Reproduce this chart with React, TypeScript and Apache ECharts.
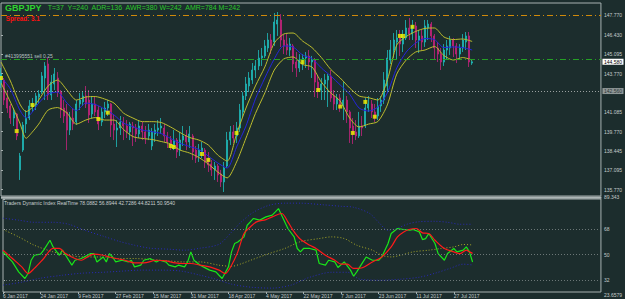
import React, { useEffect, useRef } from "react";
import * as echarts from "echarts";

// ---------- data ----------
const N_SLOTS = 192; // 151 daily bars + empty chart shift on the right
const LABEL_STEP = 12;
const DATE_LABELS = [
  "6 Jan 2017", "24 Jan 2017", "9 Feb 2017", "27 Feb 2017", "15 Mar 2017", "31 Mar 2017",
  "18 Apr 2017", "4 May 2017", "22 May 2017", "7 Jun 2017", "23 Jun 2017", "11 Jul 2017", "27 Jul 2017",
];

// [open, close, low, high]
const CANDLES: number[][] = [
  [143.05, 143.74, 142.77, 144.15], [143.32, 141.94, 141.60, 143.46], [142.08, 141.39, 141.05, 142.63],
  [141.53, 140.70, 140.29, 141.67], [140.70, 141.12, 140.15, 141.39], [140.98, 139.46, 139.18, 141.05],
  [137.12, 138.08, 136.43, 138.29], [138.49, 140.22, 138.36, 140.43], [140.29, 140.70, 139.67, 141.25],
  [140.70, 141.53, 140.56, 141.94], [141.53, 141.67, 141.12, 142.08], [141.60, 142.22, 141.25, 142.43],
  [142.15, 142.36, 141.67, 142.63], [142.49, 143.60, 142.36, 143.87], [143.46, 144.29, 141.94, 144.56],
  [144.43, 142.29, 141.94, 144.84], [142.29, 143.18, 141.94, 143.67], [143.05, 143.74, 142.63, 144.15],
  [143.46, 142.49, 142.15, 143.87], [142.49, 141.25, 140.70, 142.63], [141.39, 140.84, 140.36, 141.94],
  [141.12, 139.87, 138.49, 141.67], [139.87, 140.70, 139.53, 141.12], [140.70, 140.29, 139.87, 141.39],
  [140.43, 141.67, 140.22, 141.94], [141.67, 141.94, 141.25, 142.43], [141.81, 142.22, 141.53, 142.49],
  [142.22, 141.67, 141.39, 142.91], [141.94, 140.91, 140.36, 142.63], [140.98, 141.67, 140.70, 142.22],
  [141.67, 141.12, 140.84, 142.15], [141.25, 140.29, 139.87, 141.53], [140.43, 141.12, 140.15, 141.39],
  [141.12, 141.39, 140.70, 141.81], [141.39, 141.67, 140.84, 141.94], [141.67, 140.22, 139.39, 141.74],
  [140.29, 139.87, 139.18, 140.91], [139.87, 140.01, 138.70, 140.56], [140.01, 140.43, 139.53, 140.84],
  [140.43, 140.15, 139.18, 140.77], [140.15, 139.74, 139.32, 140.56], [139.74, 140.29, 139.18, 140.43],
  [140.15, 140.01, 138.77, 140.43], [140.01, 139.60, 139.05, 140.29], [139.60, 140.15, 139.32, 140.56],
  [140.15, 139.74, 139.18, 140.43], [139.74, 139.32, 138.91, 140.15], [139.46, 139.87, 139.18, 140.29],
  [138.77, 139.74, 138.49, 140.01], [139.60, 139.87, 139.05, 140.29], [139.87, 140.01, 139.46, 140.56],
  [140.01, 140.15, 139.60, 140.70], [140.01, 139.46, 139.05, 140.29], [139.46, 139.05, 138.63, 139.74],
  [139.18, 138.84, 138.49, 139.46], [138.84, 139.18, 138.49, 139.87], [139.18, 138.36, 137.94, 139.32],
  [138.49, 139.18, 138.08, 139.74], [139.18, 139.46, 138.77, 140.15], [139.46, 139.05, 138.49, 139.87],
  [139.05, 139.60, 138.63, 140.15], [139.46, 138.36, 137.81, 139.60], [138.49, 137.94, 137.60, 138.77],
  [138.08, 138.49, 137.67, 138.91], [138.36, 138.63, 137.94, 139.05], [138.49, 137.67, 137.25, 138.63],
  [137.81, 137.46, 136.98, 138.36], [137.53, 137.12, 136.70, 137.81], [137.12, 137.39, 136.43, 137.67],
  [137.39, 136.77, 136.29, 137.53], [136.84, 136.29, 135.94, 137.12], [136.29, 137.25, 135.60, 137.67],
  [137.39, 139.18, 137.25, 139.74], [139.18, 139.74, 138.84, 140.15], [139.74, 139.32, 138.98, 140.22],
  [139.46, 140.01, 138.98, 140.43], [140.01, 141.25, 139.74, 141.67], [141.12, 142.22, 140.70, 142.49],
  [142.22, 143.05, 141.94, 143.53], [142.91, 143.46, 142.49, 143.87], [143.32, 144.01, 143.05, 144.49],
  [144.01, 144.29, 143.46, 144.70], [144.29, 144.84, 144.01, 145.39], [144.84, 144.98, 144.29, 145.53],
  [144.98, 145.67, 144.84, 146.08], [145.53, 146.08, 145.25, 146.56], [146.08, 145.53, 145.11, 146.49],
  [145.94, 147.32, 145.67, 147.94], [147.18, 147.46, 146.36, 148.01], [147.46, 146.08, 145.60, 147.87],
  [146.08, 145.67, 145.11, 146.49], [145.80, 145.39, 145.05, 146.49], [145.39, 145.80, 144.98, 146.22],
  [145.67, 144.43, 143.87, 145.80], [144.56, 144.15, 143.53, 145.25], [144.15, 144.70, 143.87, 145.11],
  [144.70, 144.84, 144.01, 145.11], [144.84, 144.98, 144.15, 145.25], [144.98, 144.56, 144.01, 145.39],
  [144.56, 144.70, 143.46, 144.98], [144.70, 143.18, 142.15, 144.84], [143.18, 142.63, 142.08, 143.60],
  [142.63, 143.05, 141.94, 143.46], [143.05, 143.32, 141.94, 143.74], [143.32, 143.60, 141.46, 143.74],
  [143.60, 142.08, 141.81, 144.01], [142.22, 141.67, 141.25, 142.63], [141.67, 142.08, 141.25, 142.36],
  [142.08, 141.53, 141.12, 142.36], [141.53, 141.94, 140.56, 143.18], [141.94, 141.12, 140.36, 142.22],
  [141.12, 140.01, 138.98, 141.25], [140.15, 139.60, 138.91, 140.70], [139.74, 139.46, 139.18, 140.56],
  [139.46, 140.15, 139.32, 141.12], [140.15, 140.01, 139.46, 140.84], [140.15, 141.39, 140.01, 142.08],
  [141.39, 141.67, 141.12, 142.22], [141.67, 141.12, 140.70, 141.94], [141.12, 140.70, 140.43, 141.67],
  [140.84, 141.53, 140.56, 142.08], [141.53, 141.94, 141.12, 142.22], [141.94, 143.32, 141.67, 143.87],
  [142.91, 144.84, 142.43, 145.39], [144.70, 145.39, 144.43, 146.08], [145.39, 146.08, 144.84, 146.56],
  [145.94, 146.22, 144.70, 146.77], [146.22, 145.80, 144.98, 146.77], [145.80, 146.22, 145.25, 146.77],
  [146.22, 146.91, 146.08, 147.46], [146.91, 146.49, 146.08, 147.60], [146.49, 147.05, 146.08, 147.46],
  [147.05, 146.08, 145.53, 147.32], [146.08, 146.36, 145.18, 146.77], [146.36, 145.94, 145.39, 146.77],
  [145.94, 147.05, 145.60, 147.46], [146.91, 147.18, 146.08, 147.46], [147.18, 146.36, 145.94, 147.32],
  [146.36, 145.53, 144.70, 146.49], [145.53, 145.11, 144.56, 145.94], [145.11, 144.56, 144.01, 145.53],
  [144.56, 145.39, 144.29, 145.80], [145.39, 145.67, 144.70, 146.08], [145.53, 146.08, 145.05, 146.36],
  [146.08, 145.67, 144.91, 146.22], [145.67, 145.11, 144.49, 145.87], [145.11, 145.53, 144.70, 145.80],
  [145.53, 146.08, 145.25, 146.49], [145.94, 146.36, 145.39, 146.63], [146.36, 144.56, 144.22, 146.63],
  [144.49, 144.58, 144.36, 144.77],
];

// channel: [bar index, price]
const MA_MID: number[][] = [
  [0, 143.53], [3, 142.70], [6, 141.25], [8, 140.70], [10, 141.12], [12, 141.73], [15, 142.35], [18, 142.49],
  [21, 141.73], [24, 141.21], [27, 141.73], [30, 141.63], [33, 141.32], [36, 140.91], [39, 140.35], [42, 140.10],
  [45, 139.87], [48, 139.76], [51, 139.63], [54, 139.29], [57, 138.96], [60, 138.74], [63, 138.53], [66, 138.08],
  [69, 137.60], [72, 137.25], [75, 138.70], [78, 140.15], [81, 142.01], [84, 143.46], [87, 144.77], [90, 145.67],
  [93, 145.60], [96, 145.05], [99, 144.80], [102, 144.15], [105, 143.60], [108, 142.98], [111, 142.35], [114, 141.39],
  [117, 141.18], [120, 141.46], [123, 142.43], [126, 144.15], [129, 145.25], [132, 145.87], [135, 146.18], [138, 146.11],
  [141, 145.56], [144, 145.60], [147, 145.56], [150, 145.39],
];
const BAND_UP: number[][] = [
  [0, 144.56], [3, 143.25], [6, 141.67], [8, 141.14], [10, 141.43], [12, 141.94], [15, 142.91], [18, 143.32],
  [21, 142.63], [24, 141.94], [27, 142.15], [30, 142.18], [33, 142.01], [36, 141.73], [39, 141.04], [42, 140.70],
  [45, 140.45], [48, 140.45], [51, 140.39], [54, 140.08], [57, 139.70], [60, 139.36], [63, 139.18], [66, 138.84],
  [69, 138.15], [72, 137.73], [75, 139.60], [78, 141.39], [81, 142.91], [84, 144.22], [87, 145.87], [90, 146.49],
  [93, 146.56], [96, 146.01], [99, 145.56], [102, 144.87], [105, 144.05], [108, 143.46], [111, 142.77], [114, 142.22],
  [117, 142.10], [120, 141.94], [123, 143.32], [126, 145.74], [129, 146.32], [132, 146.67], [135, 146.88], [138, 146.91],
  [141, 146.29], [144, 146.11], [147, 146.15], [150, 145.98],
];
const BAND_DN: number[][] = [
  [0, 143.12], [3, 141.80], [6, 140.35], [8, 139.30], [10, 139.74], [12, 140.28], [15, 141.25], [18, 141.42],
  [21, 141.04], [24, 140.28], [27, 140.56], [30, 140.73], [33, 140.56], [36, 140.56], [39, 139.91], [42, 139.42],
  [45, 139.29], [48, 139.22], [51, 139.08], [54, 138.91], [57, 138.49], [60, 138.29], [63, 137.98], [66, 137.53],
  [69, 136.98], [72, 136.57], [75, 137.67], [78, 139.32], [81, 141.01], [84, 142.43], [87, 144.01], [90, 144.77],
  [93, 144.91], [96, 144.39], [99, 144.22], [102, 143.18], [105, 142.43], [108, 141.87], [111, 140.70], [114, 140.08],
  [117, 140.28], [120, 140.46], [123, 141.60], [126, 143.73], [129, 144.70], [132, 145.25], [135, 145.39], [138, 145.63],
  [141, 145.01], [144, 144.70], [147, 144.87], [150, 144.70],
];
const SIGNAL_DOTS: number[][] = [
  [0, 143.46], [5, 139.80], [10, 141.60], [31, 140.63], [34, 141.07], [54, 138.77], [55, 138.70], [64, 138.22],
  [66, 137.81], [75, 139.67], [96, 144.56], [101, 142.63], [108, 141.49], [112, 139.67], [116, 141.81], [119, 140.79],
  [127, 146.36], [128, 146.36], [131, 146.99],
];

// Traders Dynamic Index: [bar index, value]
const TDI_RSI: number[][] = [
  [0, 52.0], [3, 44.9], [5, 37.9], [7, 33.2], [8, 36.7], [9, 46.1], [10, 49.6], [12, 50.4], [13, 53.2], [15, 60.2],
  [16, 55.5], [18, 49.6], [19, 53.2], [20, 49.6], [22, 42.6], [23, 46.1], [25, 47.3], [27, 49.6], [28, 50.8], [29, 50.8],
  [30, 44.9], [32, 48.4], [33, 44.9], [34, 50.8], [35, 48.4], [36, 44.9], [38, 46.1], [40, 44.9], [41, 46.1], [42, 41.4],
  [44, 42.6], [45, 46.1], [47, 47.3], [49, 44.9], [50, 46.1], [52, 44.9], [53, 42.6], [55, 41.4], [56, 42.6], [58, 41.4],
  [59, 44.9], [60, 52.0], [61, 46.1], [63, 42.6], [64, 41.4], [66, 39.1], [68, 37.9], [69, 35.5], [70, 33.2], [72, 41.4],
  [73, 52.0], [74, 57.9], [75, 59.0], [77, 62.6], [78, 70.8], [79, 73.2], [80, 75.6], [82, 74.4], [84, 76.7], [86, 77.9],
  [87, 80.2], [88, 82.6], [89, 77.9], [91, 68.5], [93, 62.6], [94, 54.4], [95, 52.0], [96, 54.4], [98, 54.4], [100, 53.2],
  [101, 43.8], [103, 42.6], [104, 46.1], [106, 44.9], [107, 41.0], [109, 44.9], [111, 39.1], [112, 34.8], [113, 37.9], [115, 44.9],
  [116, 48.4], [118, 46.1], [120, 46.1], [121, 48.4], [123, 57.9], [124, 65.0], [126, 68.5], [128, 67.8], [130, 67.3], [131, 67.8],
  [133, 66.1], [134, 60.7], [135, 61.4], [136, 65.0], [138, 57.9], [139, 50.8], [141, 46.1], [142, 50.8], [144, 54.4], [145, 52.0],
  [147, 53.2], [148, 55.5], [149, 52.0], [150, 44.8211],
];
const TDI_SIGNAL: number[][] = [
  [0, 53.2], [3, 47.3], [6, 41.4], [8, 36.7], [10, 40.3], [13, 47.3], [16, 54.4], [18, 54.4], [20, 50.8], [23, 47.3],
  [25, 46.1], [27, 48.4], [29, 50.4], [32, 49.6], [34, 48.4], [36, 47.3], [39, 46.1], [42, 44.2], [45, 44.2], [49, 46.1],
  [52, 45.6], [55, 44.2], [58, 43.8], [60, 43.8], [63, 42.6], [66, 41.4], [69, 39.1], [71, 36.7], [73, 42.6], [75, 52.0],
  [77, 65.0], [79, 69.6], [81, 73.2], [84, 74.8], [86, 76.7], [89, 79.1], [91, 73.2], [93, 66.1], [95, 60.9], [98, 56.7],
  [100, 54.4], [103, 49.6], [106, 46.1], [108, 43.3], [110, 43.3], [112, 40.3], [115, 41.0], [118, 44.9], [121, 48.4], [124, 55.5],
  [126, 62.6], [128, 66.1], [130, 68.0], [132, 68.5], [134, 65.4], [136, 65.0], [138, 60.2], [141, 54.4], [144, 52.0], [146, 50.8],
  [148, 53.2], [149, 52.0], [150, 50.954],
];
const TDI_BASE: number[][] = [
  [0, 67.8], [5, 62.6], [10, 56.7], [16, 52.0], [21, 49.6], [26, 48.4], [32, 48.4], [37, 47.3], [42, 47.3], [47, 46.6],
  [53, 45.6], [58, 44.9], [63, 44.9], [69, 42.6], [73, 41.8], [76, 43.5], [79, 46.0], [85, 50.8], [90, 54.4], [95, 59.2],
  [101, 61.4], [105, 62.6], [109, 61.4], [113, 56.7], [118, 53.2], [121, 49.6], [124, 48.4], [127, 49.6], [131, 52.0], [136, 53.2],
  [140, 54.4], [144, 55.5], [147, 57.2], [150, 56.8944],
];
const TDI_VB_HIGH: number[][] = [
  [0, 75.8], [5, 74.4], [10, 72.9], [16, 72.9], [21, 71.5], [26, 67.3], [32, 63.1], [37, 59.5], [42, 56.7], [47, 54.6],
  [53, 53.9], [58, 53.2], [63, 54.6], [69, 57.4], [73, 65.9], [76, 72.9], [80, 80.0], [85, 84.9], [90, 86.4], [95, 86.4],
  [102, 85.3], [108, 84.2], [112, 83.5], [117, 79.3], [120, 72.9], [123, 67.3], [126, 68.7], [129, 71.5], [133, 73.3], [138, 73.6],
  [142, 72.9], [146, 71.5], [150, 71.5],
];
const TDI_VB_LOW: number[][] = [
  [0, 28.5], [6, 30.6], [12, 33.4], [19, 35.5], [25, 36.9], [32, 37.6], [38, 38.4], [44, 39.1], [51, 39.1], [57, 38.4],
  [63, 35.5], [68, 32.7], [73, 29.2], [79, 27.1], [86, 26.4], [92, 28.5], [95, 31.3], [98, 34.1], [105, 37.6], [110, 37.6],
  [114, 32.7], [121, 32.0], [127, 32.7], [133, 34.1], [138, 36.9], [143, 40.5], [147, 43.3], [150, 42.7286],
];

const PRICE_TICKS = [147.77, 146.43, 145.095, 143.77, 141.085, 139.77, 138.445, 137.095, 135.77];
const TDI_TICKS = [89.343, 68, 50, 32, 23.6579];
const TDI_LEVELS = [68, 50, 32];
const HIGH_LINE = 147.77;
const ORDER_PRICE = 144.75;
const ORDER_TEXT = "#413995551 sell 0.25";
const GRAY_LINE = 142.558;
const BID = 144.581;

const TITLE_SYMBOL = "GBPJPY";
const HEADER_STATS = "T=37  Y=240  ADR=136  AWR=380 W=242  AMR=784 M=242";
const SPREAD_TEXT = "Spread: 3.1";
const TDI_TITLE = "Traders Dynamic Index RealTime 78.0882 56.8944 42.7286 44.8211 50.9540";

// ---------- style ----------
const BG = "#1c2d2d";
const FRAME = "#a7b1b1";
const LABEL = "#c4cbcb";
const FONT = '"Liberation Sans", Arial, sans-serif';
const PRICE_MIN = 135.322;
const PRICE_MAX = 148.632;
const TDI_MIN = 23.6579;
const TDI_MAX = 89.343;

export default function App() {
  const ref = useRef<HTMLDivElement>(null);
  useEffect(() => {
    document.body.style.margin = "0";
    const chart = echarts.init(ref.current as HTMLDivElement, null, { renderer: "svg" });
    const cats = Array.from({ length: N_SLOTS }, (_, i) => String(i));
    const showDate = (idx: number) => idx % LABEL_STEP === 0 && idx / LABEL_STEP < DATE_LABELS.length;

    const lineS = (data: number[][], color: string, xi: number, yi: number, extra: any = {}) => ({
      type: "line",
      xAxisIndex: xi,
      yAxisIndex: yi,
      data,
      symbol: "none",
      silent: true,
      lineStyle: { color, width: 1, ...(extra.lineStyle || {}) },
      smooth: extra.smooth ?? 0,
      z: extra.z ?? 3,
      ...(extra.markLine ? { markLine: extra.markLine } : {}),
    });

    const option: any = {
      animation: false,
      backgroundColor: BG,
      textStyle: { fontFamily: FONT },
      grid: [
        { left: 1, top: 3, width: 600, height: 193, show: true, borderColor: FRAME, borderWidth: 1, backgroundColor: "transparent" },
        { left: 1, top: 199, width: 600, height: 93, show: true, borderColor: FRAME, borderWidth: 1, backgroundColor: "transparent" },
      ],
      xAxis: [
        { type: "category", gridIndex: 0, data: cats, boundaryGap: false, axisLine: { show: false }, axisTick: { show: false }, axisLabel: { show: false }, splitLine: { show: false } },
        { type: "value", gridIndex: 0, min: 0, max: N_SLOTS - 1, show: false },
        {
          type: "category", gridIndex: 1, data: cats, boundaryGap: false,
          axisLine: { show: false },
          axisTick: { show: true, interval: (i: number) => showDate(i), length: 2, lineStyle: { color: FRAME } },
          axisLabel: {
            interval: (i: number) => showDate(i),
            formatter: (_v: string, idx: number) => DATE_LABELS[idx / LABEL_STEP] ?? "",
            align: "left", fontSize: 5, color: LABEL, margin: 1.5, fontFamily: FONT,
          },
          splitLine: { show: false },
        },
        { type: "value", gridIndex: 1, min: 0, max: N_SLOTS - 1, show: false },
      ],
      yAxis: [
        {
          type: "value", gridIndex: 0, position: "right", min: PRICE_MIN, max: PRICE_MAX,
          splitLine: { show: false }, axisLine: { show: false },
          axisTick: { show: true, length: 2, customValues: PRICE_TICKS, lineStyle: { color: FRAME } },
          axisLabel: { customValues: PRICE_TICKS, formatter: (v: number) => v.toFixed(3), fontSize: 5, color: LABEL, margin: 3, fontFamily: FONT },
        },
        {
          type: "value", gridIndex: 1, position: "right", min: TDI_MIN, max: TDI_MAX,
          splitLine: { show: false }, axisLine: { show: false },
          axisTick: { show: true, length: 2, customValues: TDI_TICKS, lineStyle: { color: FRAME } },
          axisLabel: {
            customValues: TDI_TICKS, formatter: (v: number) => String(v), fontSize: 5, color: LABEL, margin: 3, fontFamily: FONT,
            verticalAlignMinLabel: "bottom", verticalAlignMaxLabel: "top",
          },
        },
      ],
      series: [
        {
          type: "candlestick", xAxisIndex: 0, yAxisIndex: 0, data: CANDLES, barWidth: 1.5, silent: true, z: 2,
          itemStyle: { color: "#168f8f", color0: "#a61a68", borderColor: "#1fbdbd", borderColor0: "#c4237c", borderWidth: 0.8 },
          markLine: {
            silent: true, symbol: ["none", "none"], animation: false,
            data: [
              { yAxis: HIGH_LINE, lineStyle: { color: "#d08a0a", type: [6, 3, 1, 3], width: 1 }, label: { show: false } },
              {
                yAxis: ORDER_PRICE, lineStyle: { color: "#25a025", type: [6, 3, 1, 3], width: 1 },
                label: { show: true, position: "insideStartTop", formatter: ORDER_TEXT, color: "#b8c2c2", fontSize: 5, fontFamily: FONT, distance: [4, 1] },
              },
              {
                yAxis: GRAY_LINE, lineStyle: { color: "#9aa0a0", type: [1, 2], width: 1 },
                label: { show: true, position: "end", formatter: (p: any) => Number(p.value).toFixed(3), backgroundColor: "#8f9797", color: "#2a3535", fontSize: 5, fontFamily: FONT, padding: [0.5, 1.5], distance: 1.5 },
              },
              {
                yAxis: BID, lineStyle: { color: "rgba(0,0,0,0)", width: 0 },
                label: { show: true, position: "end", formatter: (p: any) => Number(p.value).toFixed(3), backgroundColor: "#ffffff", color: "#000000", fontSize: 5, fontFamily: FONT, padding: [0.5, 1.5], distance: 1.5, opacity: 1 },
              },
            ],
          },
        },
        lineS(BAND_UP, "#bdbd2e", 1, 0, { smooth: 0.25 }),
        lineS(BAND_DN, "#bdbd2e", 1, 0, { smooth: 0.25 }),
        lineS(MA_MID, "#2626dd", 1, 0, { smooth: 0.25 }),
        {
          type: "scatter", xAxisIndex: 1, yAxisIndex: 0, data: SIGNAL_DOTS, symbol: "rect", symbolSize: 4, silent: true, z: 5,
          itemStyle: { color: "#f5f500" },
        },
        lineS(TDI_VB_HIGH, "#2a2ab8", 3, 1, { smooth: 0.3, lineStyle: { type: [1, 2] } }),
        lineS(TDI_VB_LOW, "#2a2ab8", 3, 1, { smooth: 0.3, lineStyle: { type: [1, 2] } }),
        lineS(TDI_BASE, "#a8a828", 3, 1, {
          smooth: 0.3, lineStyle: { type: [1, 2] },
          markLine: {
            silent: true, symbol: ["none", "none"], label: { show: false },
            lineStyle: { color: "#6c7777", type: [1, 2], width: 1 },
            data: TDI_LEVELS.map((v) => ({ yAxis: v })),
          },
        }),
        lineS(TDI_RSI, "#19e619", 3, 1, { lineStyle: { width: 1.2 }, z: 4 }),
        lineS(TDI_SIGNAL, "#ff1a1a", 3, 1, { smooth: 0.3, lineStyle: { width: 1.2 }, z: 5 }),
      ],
      graphic: [
        { type: "rect", shape: { x: 1, y: 196.5, width: 600.5, height: 2.3 }, style: { fill: "#adb6b6" }, silent: true, z: 10 },
        { type: "text", x: 5, y: 8, style: { text: TITLE_SYMBOL, fill: "#30d530", fontSize: 9, fontWeight: "bold", fontFamily: FONT, verticalAlign: "middle" }, z: 11 },
        { type: "text", x: 47.7, y: 7, style: { text: HEADER_STATS, fill: "#2cc82c", fontSize: 7, fontFamily: FONT, verticalAlign: "middle", whiteSpace: "pre" }, z: 11 },
        { type: "text", x: 5.7, y: 18.3, style: { text: SPREAD_TEXT, fill: "#ff1010", fontSize: 6.3, fontWeight: "bold", fontFamily: FONT, verticalAlign: "middle" }, z: 11 },
        { type: "text", x: 4, y: 203.3, style: { text: TDI_TITLE, fill: "#c8cece", fontSize: 5, fontFamily: FONT, verticalAlign: "middle" }, z: 11 },
      ],
    };
    chart.setOption(option);
    return () => chart.dispose();
  }, []);
  return <div ref={ref} style={{ position: "fixed", left: 0, top: 0, width: 625, height: 299, background: BG }} />;
}
